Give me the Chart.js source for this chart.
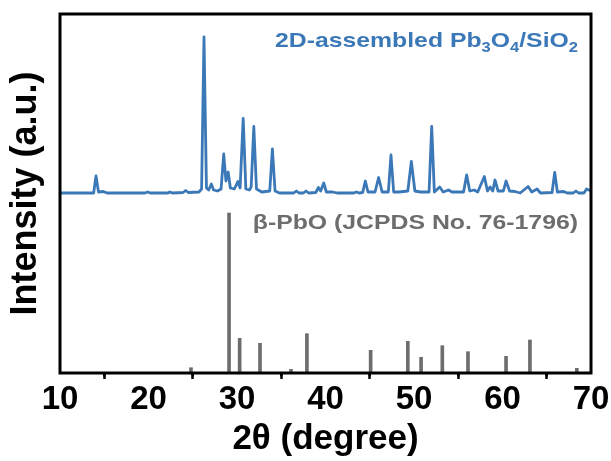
<!DOCTYPE html>
<html><head><meta charset="utf-8">
<script src="https://cdn.jsdelivr.net/npm/chart.js@4.4.1/dist/chart.umd.min.js"></script>
<style>html,body{margin:0;padding:0;background:#fff;}</style>
</head><body>
<canvas id="c" width="611" height="461"></canvas>
<script>
// ---- data ----
const xTicks = [10, 20, 30, 40, 50, 60, 70];
const xMinorTicks = [15, 25, 35, 45, 55, 65];

// measured XRD pattern of 2D-assembled Pb3O4/SiO2 (offset trace, a.u.)
const xrdAngle = [10.0,13.8,14.07,14.35,14.9,15.3,19.6,19.9,20.2,22.2,22.4,22.7,23.9,24.2,24.5,25.7,26.0,26.27,26.55,26.8,27.1,27.35,27.8,28.2,28.5,28.75,29.0,29.25,29.7,30.1,30.35,30.7,31.0,31.4,31.6,31.9,32.2,32.8,33.7,34.0,34.3,34.8,36.4,36.7,37.0,37.5,37.8,38.1,38.9,39.2,39.45,39.8,40.1,40.8,41.3,43.2,43.5,43.8,44.2,44.5,44.8,45.6,46.0,46.4,47.1,47.4,47.7,48.3,49.3,49.7,50.1,50.7,51.7,52.0,52.3,52.9,53.3,53.9,54.3,55.6,55.95,56.3,56.8,57.2,57.95,58.3,58.6,58.9,59.15,59.5,60.1,60.4,60.8,61.4,62.0,62.9,63.3,63.9,64.3,65.6,65.9,66.2,66.9,67.3,68.0,68.3,68.6,69.2,69.5,70.0];
const xrdIntensity = [180,180,197,181,181.5,180,180,181,180,180,181,180,180.5,182.5,180.5,181,184,336,185,183,189,183,182,184,219,192,201,185,184,191.5,185,254.5,184,183,186,246.5,184,181,182,224,182,180,180,182,180,180,182,180,180.5,185.5,182,190,181,181,180,180,181,180,180.5,192,181,181,195.5,181,181,218,181,181,182,211.5,182,181,181,246.5,181,186,181,183,181,181,198,182,183,181,196.5,182,186,182,193,182,182,192,182,181.5,180,186.5,181,184,180,180.5,200.5,181,181.5,180,180,182,180,180,184,182];

// reference pattern beta-PbO (JCPDS No. 76-1796)
const refAngle = [24.8, 29.1, 30.3, 32.6, 36.1, 37.9, 45.1, 49.3, 50.8, 53.2, 56.1, 60.4, 63.1, 68.4];
const refIntensity = [5.3, 160, 34.7, 29.7, 3.7, 39.3, 22.7, 31.7, 15.7, 27.3, 21.3, 16.7, 33, 4.7];

const sampleLabel = [{t:'2D-assembled Pb'},{t:'3',sub:true},{t:'O'},{t:'4',sub:true},{t:'/SiO'},{t:'2',sub:true}];
const refLabel = [{t:'β-PbO (JCPDS No. 76-1796)'}];

const BLUE = '#3b78b7';
const GRAY = '#6d6d6d';
const FONT = "'Liberation Sans', Arial, sans-serif";

function drawRich(ctx, parts, right, baseline, size, subSize, subDy, color, hs){
  ctx.save();
  ctx.fillStyle = color; ctx.textBaseline = 'alphabetic'; ctx.textAlign = 'left';
  let w = 0;
  parts.forEach(p => { ctx.font = `bold ${p.sub ? subSize : size}px ${FONT}`; w += ctx.measureText(p.t).width; });
  ctx.translate(right - w * hs, baseline);
  ctx.scale(hs, 1);
  let x = 0;
  parts.forEach(p => { ctx.font = `bold ${p.sub ? subSize : size}px ${FONT}`; ctx.fillText(p.t, x, p.sub ? subDy : 0); x += ctx.measureText(p.t).width; });
  ctx.restore();
}

const decor = {
  id: 'decor',
  afterDraw(chart){
    const ctx = chart.ctx, a = chart.chartArea, xs = chart.scales.x;
    ctx.save();
    ctx.strokeStyle = '#000'; ctx.lineWidth = 3;
    ctx.strokeRect(a.left, a.top, a.right - a.left, a.bottom - a.top);
    ctx.lineWidth = 2.5;
    xMinorTicks.forEach(v => {
      const px = xs.getPixelForValue(v);
      ctx.beginPath(); ctx.moveTo(px, a.bottom); ctx.lineTo(px, a.bottom + 3.5); ctx.stroke();
    });
    ctx.restore();
    drawRich(ctx, sampleLabel, 578, 47, 21, 14, 5, BLUE, 1.18);
    drawRich(ctx, refLabel, 578, 229, 20, 14, 5, GRAY, 1.24);
  }
};

new Chart(document.getElementById('c'), {
  type: 'line',
  data: {
    datasets: [
      { type: 'line', data: xrdAngle.map((a, i) => ({x: a, y: xrdIntensity[i]})),
        borderColor: BLUE, borderWidth: 2.8, pointRadius: 0, tension: 0, fill: false,
        borderJoinStyle: 'round', borderCapStyle: 'round' },
      { type: 'bar', data: refAngle.map((a, i) => ({x: a, y: refIntensity[i]})),
        backgroundColor: GRAY, borderWidth: 0, barThickness: 3 }
    ]
  },
  options: {
    responsive: false, animation: false,
    layout: { padding: { top: 14, right: 20, left: 0, bottom: 0 } },
    plugins: { legend: { display: false }, tooltip: { enabled: false } },
    scales: {
      x: {
        type: 'linear', min: 10, max: 70, offset: false,
        afterBuildTicks: s => { s.ticks = xTicks.map(v => ({ value: v })); },
        afterFit: s => { s.height = 88; },
        ticks: { font: { family: FONT, size: 33, weight: 'bold' }, color: '#000', padding: 1, maxRotation: 0, autoSkip: false },
        grid: { drawOnChartArea: false, drawTicks: true, tickLength: 6, tickWidth: 2.5, tickColor: '#000' },
        border: { display: false },
        title: { display: true, text: '2θ (degree)', font: { family: FONT, size: 35, weight: 'bold' }, color: '#000', padding: { top: 0, bottom: 1 } }
      },
      y: {
        min: 0, max: 359,
        afterFit: s => { s.width = 60; },
        ticks: { display: false },
        grid: { display: false },
        border: { display: false },
        title: { display: true, text: 'Intensity (a.u.)', font: { family: FONT, size: 36, weight: 'bold' }, color: '#000', padding: { top: 4, bottom: 0 } }
      }
    }
  },
  plugins: [decor]
});
</script>
</body></html>
